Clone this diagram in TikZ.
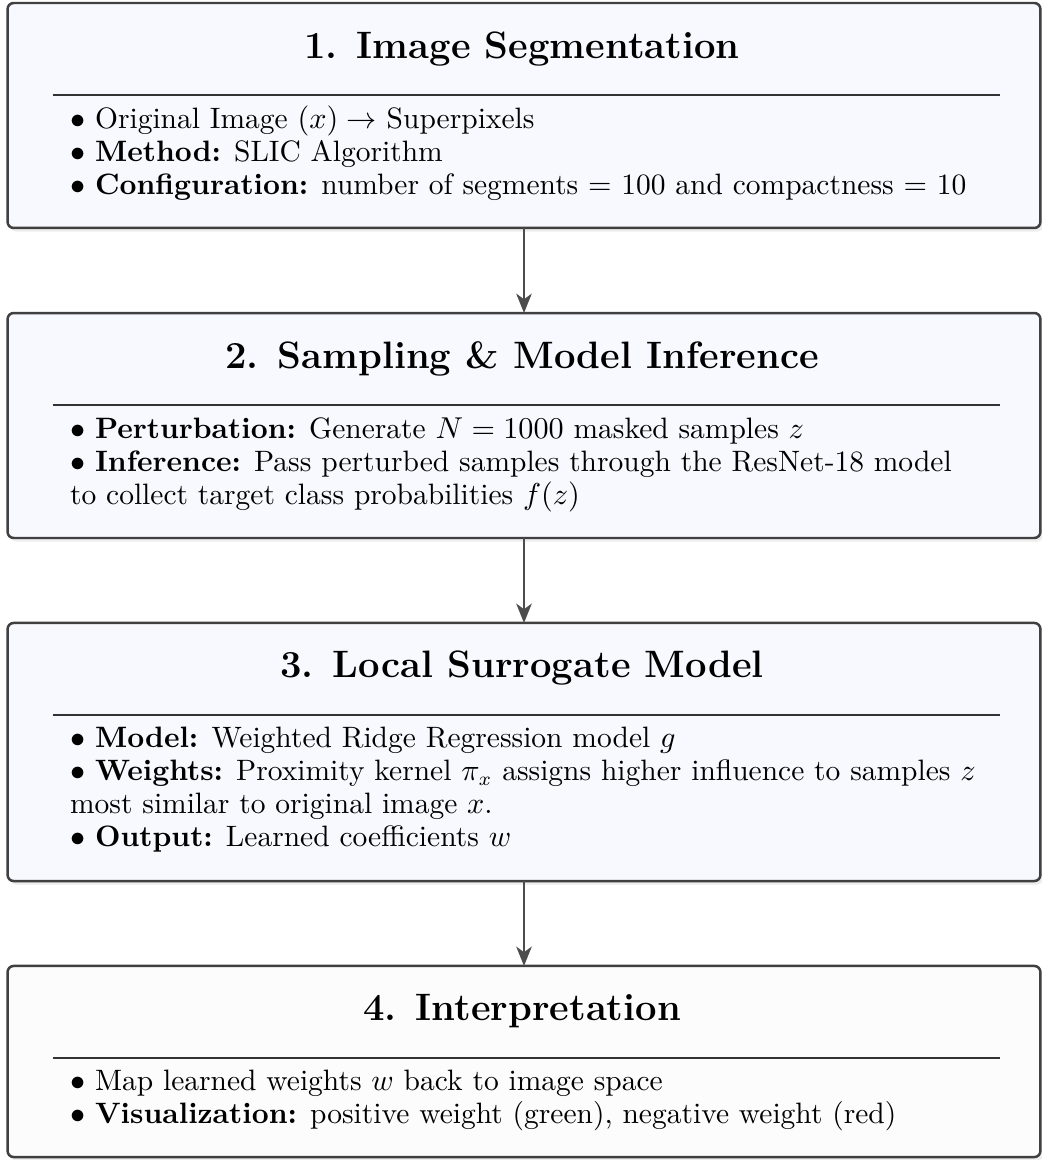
\documentclass[tikz,border=0pt]{standalone}
\usetikzlibrary{arrows.meta,calc,shadows}

\definecolor{stagefill}{RGB}{248,248,255}
\definecolor{lastfill}{RGB}{252,252,252}
\definecolor{stageline}{RGB}{64,64,64}
\definecolor{flowline}{RGB}{77,77,77}

\newcommand{\itemdot}{$\bullet$}

\tikzset{
  stage/.style={draw=stageline, line width=0.9pt, fill=stagefill,
    rounded corners=2.2pt, minimum width=374.6pt, inner sep=0pt, outer sep=0pt,
    drop shadow={shadow xshift=1pt, shadow yshift=-1.3pt, opacity=0.07, fill=black}},
  stagetitle/.style={anchor=base, inner sep=0pt, font=\fontsize{13.85}{16}\selectfont\bfseries},
  stageline/.style={anchor=base west, inner sep=0pt, font=\fontsize{10.7}{12}\selectfont},
  titlerule/.style={draw=black!80, line width=0.5pt},
  flow/.style={draw=flowline, line width=0.85pt, -{Stealth[length=7pt,width=5.6pt,inset=2pt]}}
}

\begin{document}
\begin{tikzpicture}[x=0.3627pt, y=-0.3627pt]
\useasboundingbox (0,0) rectangle (1041,1160);

% the four stage boxes
\node[stage, minimum height=81.6pt] (s1) at (524,115.5) {};
\node[stage, minimum height=81.6pt] (s2) at (524,425.5) {};
\node[stage, minimum height=93.6pt] (s3) at (524,752) {};
\node[stage, minimum height=69.3pt, fill=lastfill] (s4) at (524,1061.5) {};

% stage 1
\node[stagetitle] (t1) at ($(s1.north)+(-2,55)$) {1. Image Segmentation};
\draw[titlerule] ($(s1.north west)+(45,92)$) -- ($(s1.north east)+(-40,92)$);
\node[stageline] (l11) at ($(s1.north west)+(62,125)$) {\itemdot{} Original Image $(x) \rightarrow$ Superpixels};
\node[stageline] (l12) at ($(s1.north west)+(62,158)$) {\itemdot{} \textbf{Method:} SLIC Algorithm};
\node[stageline] (l13) at ($(s1.north west)+(62,191)$) {\itemdot{} \textbf{Configuration:} number of segments $=$ 100 and compactness $=$ 10};

% stage 2
\node[stagetitle] (t2) at ($(s2.north)+(-2,55)$) {2. Sampling \& Model Inference};
\draw[titlerule] ($(s2.north west)+(45,92)$) -- ($(s2.north east)+(-40,92)$);
\node[stageline] (l21) at ($(s2.north west)+(62,125)$) {\itemdot{} \textbf{Perturbation:} Generate $N = 1000$ masked samples $z$};
\node[stageline] (l22) at ($(s2.north west)+(62,158)$) {\itemdot{} \textbf{Inference:} Pass perturbed samples through the ResNet-18 model};
\node[stageline] (l23) at ($(s2.north west)+(62,191)$) {to collect target class probabilities $f(z)$};

% stage 3
\node[stagetitle] (t3) at ($(s3.north)+(-2,55)$) {3. Local Surrogate Model};
\draw[titlerule] ($(s3.north west)+(45,92)$) -- ($(s3.north east)+(-40,92)$);
\node[stageline] (l31) at ($(s3.north west)+(62,125)$) {\itemdot{} \textbf{Model:} Weighted Ridge Regression model $g$};
\node[stageline] (l32) at ($(s3.north west)+(62,158)$) {\itemdot{} \textbf{Weights:} Proximity kernel $\pi_x$ assigns higher influence to samples $z$};
\node[stageline] (l33) at ($(s3.north west)+(62,191)$) {most similar to original image $x$.};
\node[stageline] (l34) at ($(s3.north west)+(62,224)$) {\itemdot{} \textbf{Output:} Learned coefficients $w$};

% stage 4
\node[stagetitle] (t4) at ($(s4.north)+(-2,55)$) {4. Interpretation};
\draw[titlerule] ($(s4.north west)+(45,92)$) -- ($(s4.north east)+(-40,92)$);
\node[stageline] (l41) at ($(s4.north west)+(62,125)$) {\itemdot{} Map learned weights $w$ back to image space};
\node[stageline] (l42) at ($(s4.north west)+(62,158)$) {\itemdot{} \textbf{Visualization:} positive weight (green), negative weight (red)};

% flow between stages
\draw[flow] (s1.south) -- (s2.north);
\draw[flow] (s2.south) -- (s3.north);
\draw[flow] (s3.south) -- (s4.north);
\end{tikzpicture}
\end{document}
